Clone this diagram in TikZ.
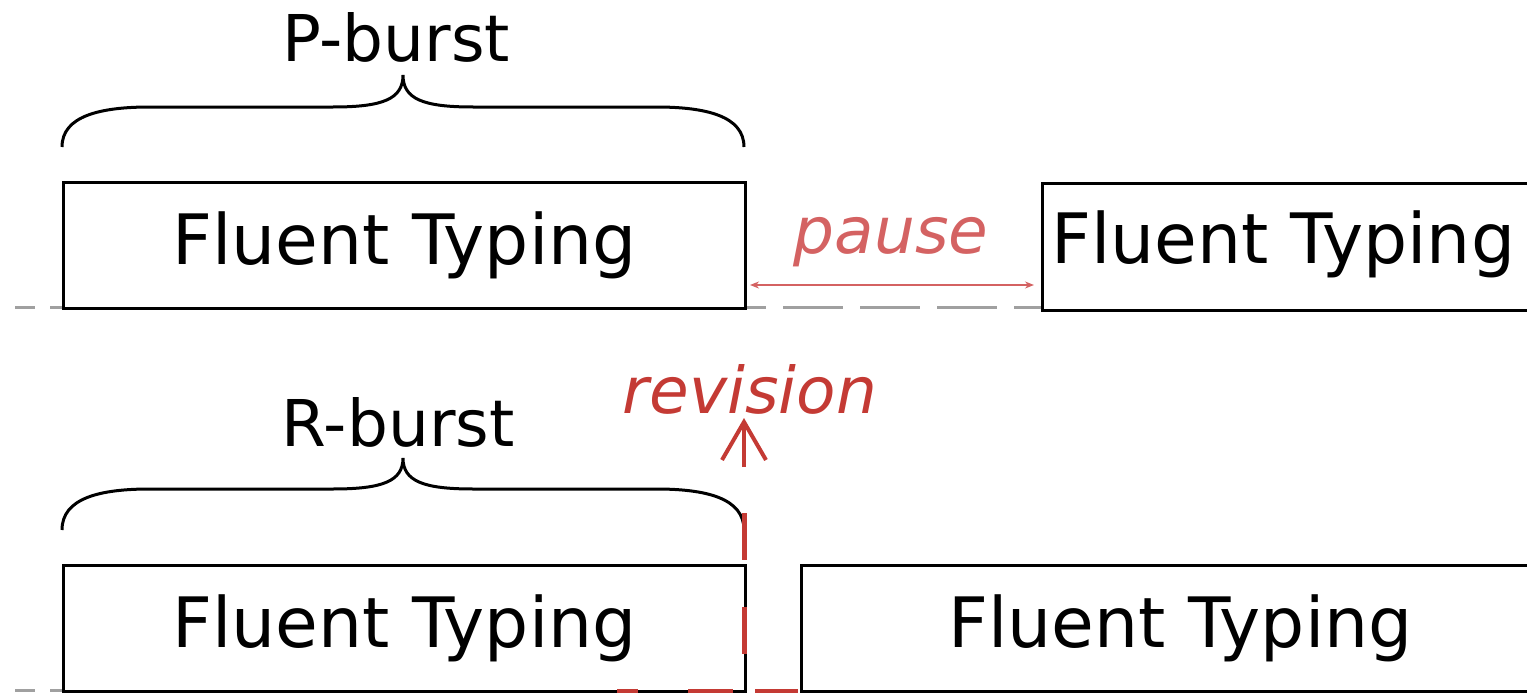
\documentclass[tikz,border=0pt]{standalone}
\usepackage{fontspec}
\setmainfont{DejaVu Sans}
\usetikzlibrary{arrows.meta}
\definecolor{revred}{RGB}{196,58,52}
\definecolor{pausered}{RGB}{212,98,98}
\definecolor{basegray}{RGB}{160,160,160}
\begin{document}
\begin{tikzpicture}[x=1pt,y=1pt,
  box/.style={draw=black, line width=3pt, inner sep=0pt, anchor=north west,
              font=\fontsize{69.5}{80}\selectfont},
  big/.style={font=\fontsize{69.5}{80}\selectfont, inner sep=0pt},
  lab/.style={font=\fontsize{64.5}{75}\selectfont, inner sep=0pt},
  brace/.style={draw=black, line width=3pt},
  basedash/.style={draw=basegray, line width=3pt},
  revline/.style={draw=revred, line width=5pt},
]
\useasboundingbox (0,0) rectangle (1527,-693);
\clip (0,0) rectangle (1527,-693);

% baselines
\draw[basedash] (15,-307) -- (35,-307) (50,-307) -- (62,-307);
\draw[basedash, dash pattern=on 60pt off 17pt, dash phase=38pt] (744,-307) -- (1041,-307);
\draw[basedash] (15,-690) -- (35,-690) (50,-690) -- (62,-690);

% boxes
\node[box, minimum width=682pt, minimum height=126pt] (pb1) at (62,-181) {Fluent Typing};
\node[box, minimum width=520pt, minimum height=127pt] (pb2) at (1041,-182) {};
\node[big, anchor=base west] (pt2) at (1051,-263) {Fluent Typing};
\node[box, minimum width=682pt, minimum height=126pt] (rb1) at (62,-564) {Fluent Typing};
\node[box, minimum width=758pt, minimum height=126pt] (rb2) at (800,-564) {Fluent Typing};

% labels
\node[lab, anchor=base] (plab) at (396,-62) {P-burst};
\node[lab, anchor=base] (rlab) at (398,-446) {R-burst};
\node[lab, anchor=base, text=pausered] (pause) at (891,-253) {\itshape pause};
\node[lab, anchor=base, text=revred] (rev) at (750,-413) {\itshape revision};

% braces
\coordinate (pbL) at (62,-147);
\coordinate (pbR) at (744,-147);
\coordinate (pbT) at (403,-75);
\draw[brace] (pbL) .. controls (62,-116) and (100,-107) .. (150,-107) -- (333,-107)
  .. controls (383,-107) and (403,-99) .. (pbT)
  .. controls (403,-99) and (423,-107) .. (473,-107) -- (656,-107)
  .. controls (706,-107) and (744,-116) .. (pbR);
\coordinate (rbL) at (62,-530);
\coordinate (rbR) at (744,-530);
\coordinate (rbT) at (403,-458);
\draw[brace] (rbL) .. controls (62,-498) and (100,-489) .. (150,-489) -- (333,-489)
  .. controls (383,-489) and (403,-481) .. (rbT)
  .. controls (403,-481) and (423,-489) .. (473,-489) -- (656,-489)
  .. controls (706,-489) and (744,-498) .. (rbR);

% pause arrow
\coordinate (pa) at (750,-285);
\coordinate (pz) at (1034,-285);
\draw[pausered, line width=1.5pt, {Stealth[length=9pt,width=7pt]}-{Stealth[length=9pt,width=7pt]}] (pa) -- (pz);

% revision
\coordinate (ra) at (744,-467);
\coordinate (rz) at (744,-418);
\draw[revred, line width=4pt, -{Straight Barb[length=38pt,width=44pt,line width=4pt]}] (ra) -- (rz);
\coordinate (va) at (744,-513);
\coordinate (vz) at (744,-693);
\draw[revline, dash pattern=on 47pt off 47pt] (va) -- (vz);
\coordinate (ha) at (617,-691);
\coordinate (hz) at (798,-691);
\draw[revline, dash pattern=on 21pt off 50pt on 45pt off 22pt on 43pt off 20pt] (ha) -- (hz);
\end{tikzpicture}
\end{document}
